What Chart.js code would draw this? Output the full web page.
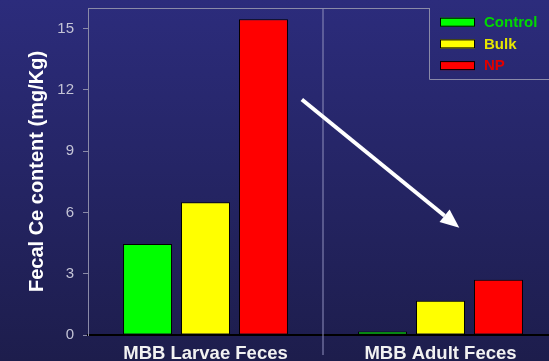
<!DOCTYPE html>
<html>
<head>
<meta charset="utf-8">
<script src="https://cdn.jsdelivr.net/npm/chart.js@4.4.1/dist/chart.umd.min.js"></script>
<style>
  html, body { margin: 0; padding: 0; width: 549px; height: 361px; overflow: hidden; }
  body { background: linear-gradient(to bottom, #2c2c7c 0%, #1d1d4c 100%); }
  #wrap { position: relative; width: 570px; height: 361px; }
</style>
</head>
<body>
<div id="wrap"><canvas id="chart" width="570" height="361"></canvas></div>
<script>
// Fecal Ce content by life stage and treatment
const categories = ['MBB Larvae Feces', 'MBB Adult Feces'];
const seriesNames = ['Control', 'Bulk', 'NP'];
const controlValues = [4.45, 0.17];
const bulkValues = [6.5, 1.67];
const npValues = [15.45, 2.7];
const yTickValues = [0, 3, 6, 9, 12, 15];

// Trend arrow, given as [category position, value]
const arrowStart = [0.41, 11.52];
const arrowEnd = [1.08, 5.25];

const FONT = '"Liberation Sans", Arial, sans-serif';
const FRAME = '#8a8aa8';
const fills = ['#00ff00', '#ffff00', '#ff0000'];
const legendText = ['#00d800', '#e6e600', '#e00000'];

// Plot frame top edge, category divider and legend box
const decorations = {
  id: 'decorations',
  beforeDatasetsDraw(chart) {
    const { ctx, chartArea: a, scales: { x } } = chart;
    const legendLeft = a.right - 129;
    ctx.save();
    ctx.strokeStyle = FRAME;
    ctx.lineWidth = 1;
    ctx.beginPath();
    ctx.moveTo(a.left, a.top + 0.5);
    ctx.lineTo(legendLeft, a.top + 0.5);
    ctx.stroke();
    const mid = (x.getPixelForValue(0) + x.getPixelForValue(1)) / 2;
    ctx.strokeStyle = 'rgba(140,140,185,0.7)';
    ctx.lineWidth = 1.5;
    ctx.beginPath();
    ctx.moveTo(mid, a.top);
    ctx.lineTo(mid, a.bottom + 20);
    ctx.stroke();
    ctx.restore();
  },
  afterDatasetsDraw(chart) {
    const { ctx, chartArea: a, scales: { x, y } } = chart;
    ctx.save();
    // arrow
    const x0 = x.getPixelForValue(arrowStart[0]), y0 = y.getPixelForValue(arrowStart[1]);
    const x1 = x.getPixelForValue(arrowEnd[0]), y1 = y.getPixelForValue(arrowEnd[1]);
    const ang = Math.atan2(y1 - y0, x1 - x0);
    const headLen = 19, headHalf = 8;
    const bx = x1 - headLen * Math.cos(ang), by = y1 - headLen * Math.sin(ang);
    ctx.strokeStyle = '#ffffff';
    ctx.fillStyle = '#ffffff';
    ctx.lineWidth = 4;
    ctx.beginPath();
    ctx.moveTo(x0, y0);
    ctx.lineTo(bx, by);
    ctx.stroke();
    ctx.beginPath();
    ctx.moveTo(x1, y1);
    ctx.lineTo(bx + headHalf * Math.sin(ang), by - headHalf * Math.cos(ang));
    ctx.lineTo(bx - headHalf * Math.sin(ang), by + headHalf * Math.cos(ang));
    ctx.closePath();
    ctx.fill();

    // legend
    const left = a.right - 129, top = a.top, bottom = a.top + 71;
    ctx.strokeStyle = FRAME;
    ctx.lineWidth = 1;
    ctx.beginPath();
    ctx.moveTo(left + 0.5, top);
    ctx.lineTo(left + 0.5, bottom + 0.5);
    ctx.lineTo(a.right, bottom + 0.5);
    ctx.stroke();
    ctx.font = 'bold 15px ' + FONT;
    ctx.textBaseline = 'middle';
    ctx.textAlign = 'left';
    chart.data.datasets.forEach((ds, i) => {
      const cy = top + 14.2 + i * 21.7;
      ctx.fillStyle = ds.backgroundColor;
      ctx.fillRect(left + 11, cy - 4.5, 35, 9);
      ctx.strokeStyle = '#000';
      ctx.lineWidth = 1;
      ctx.strokeRect(left + 11.5, cy - 4, 34, 8);
      ctx.fillStyle = legendText[i];
      ctx.fillText(ds.label, left + 55, cy + 0.5);
    });
    ctx.restore();
  }
};

const seriesValues = [controlValues, bulkValues, npValues];

new Chart(document.getElementById('chart'), {
  type: 'bar',
  data: {
    labels: categories,
    datasets: seriesNames.map((name, i) => ({
      label: name,
      data: seriesValues[i],
      backgroundColor: fills[i],
      borderColor: '#000',
      borderWidth: 1,
      borderSkipped: false,
      categoryPercentage: 0.74,
      barPercentage: 0.845
    }))
  },
  options: {
    responsive: false,
    animation: false,
    layout: { padding: { top: 8, right: 12, left: 0, bottom: 0 } },
    plugins: { legend: { display: false }, tooltip: { enabled: false } },
    scales: {
      x: {
        afterFit: s => { s.height = 26; s.paddingLeft = 0; s.paddingRight = 0; },
        grid: { display: false, drawTicks: false },
        border: { display: true, color: '#000', width: 2 },
        ticks: { color: '#f2f2f2', font: { size: 18.5, weight: 'bold', family: FONT }, padding: 8 }
      },
      y: {
        min: 0,
        max: 16,
        afterBuildTicks: s => { s.ticks = yTickValues.map(v => ({ value: v })); },
        afterFit: s => { s.width = 88; s.paddingTop = 0; s.paddingBottom = 0; },
        grid: { display: true, drawOnChartArea: false, drawTicks: true, tickLength: 5, color: FRAME },
        border: { display: true, color: FRAME, width: 1 },
        ticks: { color: '#c4c4d6', font: { size: 15, family: FONT }, padding: 9 },
        title: {
          display: true,
          text: 'Fecal Ce content (mg/Kg)',
          color: '#ffffff',
          font: { size: 20, weight: 'bold', family: FONT },
          padding: { top: 25, bottom: 0 }
        }
      }
    }
  },
  plugins: [decorations]
});
</script>
</body>
</html>
